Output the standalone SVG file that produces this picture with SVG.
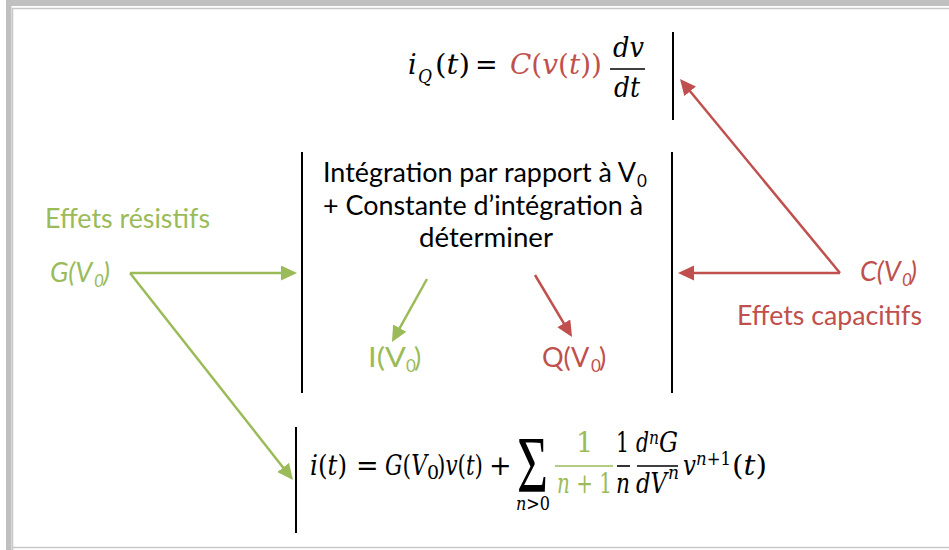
<svg xmlns="http://www.w3.org/2000/svg" width="949" height="550" viewBox="0 0 949 550">
<style>
.s{font-family:Lato,"Open Sans",sans-serif;font-size:27px}
.sb{font-family:Lato,"Open Sans",sans-serif;font-size:17px}
.m{font-family:"DejaVu Serif","Liberation Serif",serif;font-size:27px;font-style:italic}
.ms{font-family:"DejaVu Serif","Liberation Serif",serif;font-size:19px;font-style:italic}
.u{font-style:normal}
.i{font-style:italic}
.g{fill:#9BBB59}
.r{fill:#C0504D}
.k{fill:#000}
.vl{stroke:#000;stroke-width:2;fill:none}
.bar{stroke-width:1.6;fill:none}
.ag{stroke:#9BBB59;stroke-width:2.5;fill:none;marker-end:url(#hg)}
.ar{stroke:#C0504D;stroke-width:2.5;fill:none;marker-end:url(#hr)}
</style>
<defs>
<marker id="hg" markerUnits="userSpaceOnUse" markerWidth="17" markerHeight="16" refX="5" refY="7.5" orient="auto" viewBox="0 0 17 16"><path d="M0,0 L16,7.5 L0,15 z" fill="#9BBB59"/></marker>
<marker id="hr" markerUnits="userSpaceOnUse" markerWidth="17" markerHeight="16" refX="5" refY="7.5" orient="auto" viewBox="0 0 17 16"><path d="M0,0 L16,7.5 L0,15 z" fill="#C0504D"/></marker>
</defs>
<rect width="949" height="550" fill="#fff"/>
<g id="frame">
<rect x="6" y="0" width="943" height="6" fill="#c0c0c0"/>
<rect x="6" y="0" width="5.5" height="550" fill="#c0c0c0"/>
<path d="M12.5,550 V8.5 H949 M12.5,547.5 H949" stroke="#c8c8c8" stroke-width="1.5" fill="none"/>
</g>
<g id="eqQ">
<line class="vl" x1="673" y1="32" x2="673" y2="120"/>
<text class="m k" x="408" y="74">i</text>
<text class="ms k" x="418" y="83" textLength="14" lengthAdjust="spacingAndGlyphs">Q</text>
<text class="m k" x="435" y="74" textLength="35" lengthAdjust="spacingAndGlyphs"><tspan class="u">(</tspan>t<tspan class="u">)</tspan></text>
<text class="m k u" x="475" y="74">=</text>
<text class="m r" x="510" y="74" textLength="92" lengthAdjust="spacingAndGlyphs">C<tspan class="u">(</tspan>v<tspan class="u">(</tspan>t<tspan class="u">))</tspan></text>
<line class="bar" stroke="#000" x1="610" y1="69" x2="645" y2="69"/>
<text class="m k" x="613" y="57" textLength="31" lengthAdjust="spacingAndGlyphs">dv</text>
<text class="m k" x="614" y="97" textLength="26" lengthAdjust="spacingAndGlyphs">dt</text>
</g>
<g id="integration">
<line class="vl" x1="302" y1="152" x2="302" y2="393"/>
<line class="vl" x1="672" y1="152" x2="672" y2="393"/>
<text class="s k" x="323" y="182" textLength="313" lengthAdjust="spacingAndGlyphs">Intégration par rapport à V</text>
<text class="sb k" x="637" y="187">0</text>
<text class="s k" x="323" y="215" textLength="320" lengthAdjust="spacingAndGlyphs">+ Constante d’intégration à</text>
<text class="s k" x="419" y="247" textLength="134" lengthAdjust="spacingAndGlyphs">déterminer</text>
</g>
<g id="IV0">
<text class="s g" x="368" y="367" textLength="38" lengthAdjust="spacingAndGlyphs">I(V</text>
<text class="sb g" x="406" y="372">0</text>
<text class="s g" x="414" y="367">)</text>
</g>
<g id="QV0">
<text class="s r" x="542" y="367">Q(V</text>
<text class="sb r" x="591" y="372">0</text>
<text class="s r" x="599" y="367">)</text>
</g>
<g id="resistifs">
<text class="s g" x="45" y="228" textLength="165" lengthAdjust="spacingAndGlyphs">Effets résistifs</text>
<text class="s g i" x="50" y="282">G(V</text>
<text class="sb g i" x="94" y="287">0</text>
<text class="s g i" x="103" y="282">)</text>
</g>
<g id="capacitifs">
<text class="s r i" x="860" y="281">C(V</text>
<text class="sb r i" x="902" y="286">0</text>
<text class="s r i" x="910" y="281">)</text>
<text class="s r" x="737" y="325" textLength="185" lengthAdjust="spacingAndGlyphs">Effets capacitifs</text>
</g>
<g id="eqI">
<line class="vl" x1="296" y1="427" x2="296" y2="533"/>
<text class="m k" x="310" y="475" textLength="37" lengthAdjust="spacingAndGlyphs">i<tspan class="u">(</tspan>t<tspan class="u">)</tspan></text>
<text class="m k u" x="356" y="475">=</text>
<text class="m k" x="385" y="475" textLength="42" lengthAdjust="spacingAndGlyphs">G<tspan class="u">(</tspan>V</text>
<text class="ms k u" x="427" y="479">0</text>
<text class="m k" x="437" y="475" textLength="46" lengthAdjust="spacingAndGlyphs"><tspan class="u">)</tspan>v<tspan class="u">(</tspan>t<tspan class="u">)</tspan></text>
<text class="m k u" x="489" y="475">+</text>
<text font-family="Liberation Serif,serif" font-size="56" fill="#000" transform="translate(517,492) scale(1,1.45)" textLength="31" lengthAdjust="spacingAndGlyphs">Σ</text>
<text class="ms k" x="516" y="510" textLength="34" lengthAdjust="spacingAndGlyphs">n<tspan class="u">&gt;0</tspan></text>
<line class="bar" stroke="#9BBB59" x1="555" y1="466" x2="613" y2="466"/>
<text class="m g u" x="576" y="452">1</text>
<text class="m g" x="557" y="493" textLength="55" lengthAdjust="spacingAndGlyphs">n<tspan class="u"> + 1</tspan></text>
<line class="bar" stroke="#000" x1="617" y1="466" x2="630" y2="466"/>
<text class="m k u" x="616" y="452" textLength="13" lengthAdjust="spacingAndGlyphs">1</text>
<text class="m k" x="616" y="493" textLength="14" lengthAdjust="spacingAndGlyphs">n</text>
<line class="bar" stroke="#000" x1="637" y1="466" x2="678" y2="466"/>
<text class="m k" x="636" y="452" textLength="13" lengthAdjust="spacingAndGlyphs">d</text>
<text class="ms k" x="649" y="444" textLength="10" lengthAdjust="spacingAndGlyphs">n</text>
<text class="m k" x="659" y="452" textLength="19" lengthAdjust="spacingAndGlyphs">G</text>
<text class="m k" x="636" y="493" textLength="31" lengthAdjust="spacingAndGlyphs">dV</text>
<text class="ms k" x="668" y="479" textLength="11" lengthAdjust="spacingAndGlyphs">n</text>
<text class="m k" x="683" y="475" textLength="13" lengthAdjust="spacingAndGlyphs">v</text>
<text class="ms k" x="696" y="465" textLength="35" lengthAdjust="spacingAndGlyphs">n<tspan class="u">+1</tspan></text>
<text class="m k" x="732" y="475" textLength="35" lengthAdjust="spacingAndGlyphs"><tspan class="u">(</tspan>t<tspan class="u">)</tspan></text>
</g>
<g id="connectors">
<line class="ag" x1="130" y1="273" x2="286" y2="273"/>
<line class="ag" x1="130" y1="273" x2="286.2" y2="471.4"/>
<line class="ag" x1="427" y1="279" x2="397.3" y2="332.4"/>
<line class="ar" x1="535" y1="275" x2="566.4" y2="327.6"/>
<line class="ar" x1="840" y1="273" x2="689" y2="273"/>
<line class="ar" x1="840" y1="273" x2="687" y2="87.5"/>
</g>
</svg>
